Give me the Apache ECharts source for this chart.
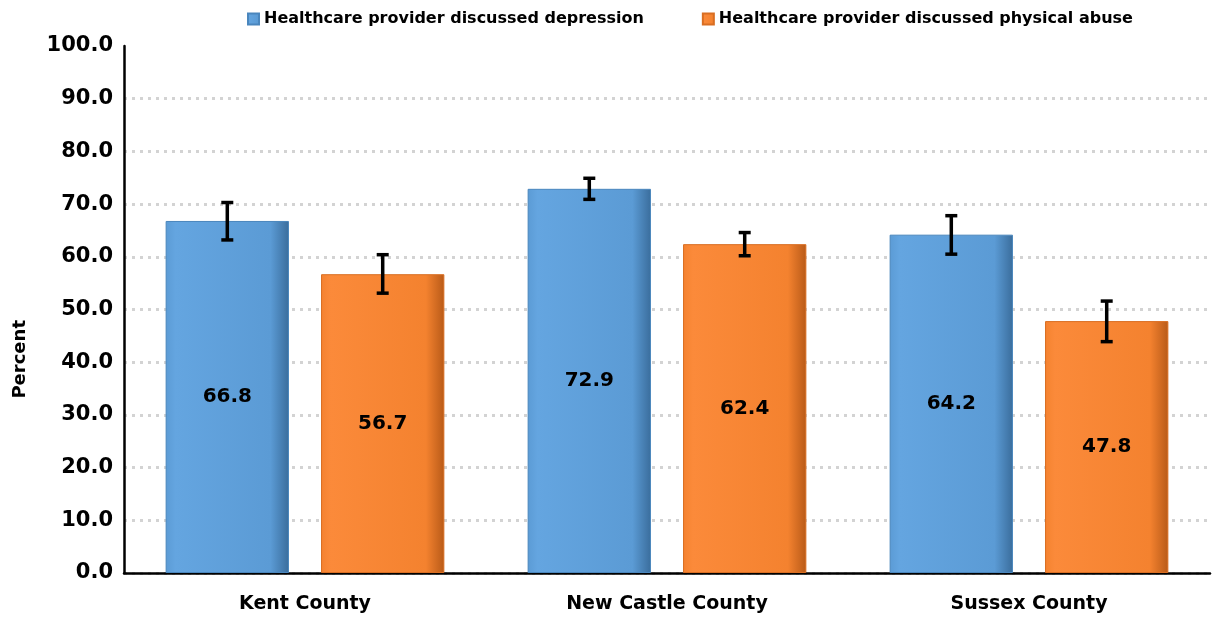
<!DOCTYPE html>
<html><head><meta charset="utf-8">
<script src="https://cdn.jsdelivr.net/npm/echarts@6/dist/echarts.min.js"></script>
<style>html,body{margin:0;padding:0;background:#fff}#c{width:1213px;height:617px}</style>
</head><body><div id="c"></div>
<script>
const categories = ['Kent County', 'New Castle County', 'Sussex County'];
const seriesNames = ['Healthcare provider discussed depression', 'Healthcare provider discussed physical abuse'];
const depression = [66.8, 72.9, 64.2];
const physicalAbuse = [56.7, 62.4, 47.8];
const depressionLow = [63.2, 70.9, 60.5];
const depressionHigh = [70.3, 74.9, 67.8];
const abuseLow = [53.1, 60.2, 43.9];
const abuseHigh = [60.4, 64.6, 51.6];
const yTicks = [0, 10, 20, 30, 40, 50, 60, 70, 80, 90, 100];

const FONT = 'DejaVu Sans';
const chart = echarts.init(document.getElementById('c'));

function grad(light, mid, dark) {
  return new echarts.graphic.LinearGradient(0, 0, 1, 0, [
    {offset: 0, color: mid},
    {offset: 0.08, color: light},
    {offset: 0.85, color: mid},
    {offset: 1, color: dark}
  ]);
}

const BAR_GAP = '26%';
const CAT_GAP = '23%';

function errorSeries(low, high, seriesIndex) {
  return {
    type: 'custom',
    name: 'err' + seriesIndex,
    z: 10,
    silent: true,
    renderItem: function (params, api) {
      const xi = api.value(0);
      const lo = api.coord([xi, api.value(1)]);
      const hi = api.coord([xi, api.value(2)]);
      const size = api.size([1, 0]);
      const catW = size[0];
      const inner = catW * (1 - 0.23);
      const bw = inner / (2 + 0.26);
      const offset = (seriesIndex === 0 ? -1 : 1) * (bw / 2 + bw * 0.26 / 2);
      const x = lo[0] + offset;
      const half = 6;
      const style = {stroke: '#000', lineWidth: 3.5};
      return {
        type: 'group',
        children: [
          {type: 'line', shape: {x1: x, y1: lo[1], x2: x, y2: hi[1]}, style: style},
          {type: 'line', shape: {x1: x - half, y1: lo[1], x2: x + half, y2: lo[1]}, style: style},
          {type: 'line', shape: {x1: x - half, y1: hi[1], x2: x + half, y2: hi[1]}, style: style}
        ]
      };
    },
    encode: {x: 0, y: [1, 2]},
    data: categories.map((c, i) => [i, low[i], high[i]])
  };
}

const labelCfg = {
  show: true, position: 'inside', color: '#000', fontFamily: FONT, fontWeight: 'bold', fontSize: 20,
  formatter: p => p.value.toFixed(1)
};

const gridColors = yTicks.map((v, i) => i === yTicks.length - 1 ? 'rgba(0,0,0,0)' : '#d3d3d3');

chart.setOption({
  animation: false,
  textStyle: {fontFamily: FONT},
  legend: {
    top: 6, left: 242, itemGap: 58, itemWidth: 11, itemHeight: 11, icon: 'rect',
    data: seriesNames,
    textStyle: {fontFamily: FONT, fontWeight: 'bold', fontSize: 16, color: '#000'}
  },
  grid: {left: 124, right: 3, top: 46, bottom: 44, containLabel: false},
  xAxis: {
    type: 'category', data: categories,
    axisLine: {lineStyle: {color: '#000', width: 2.5}},
    axisTick: {show: false},
    axisLabel: {color: '#000', fontFamily: FONT, fontWeight: 'bold', fontSize: 19, margin: 22},
    splitLine: {show: false}
  },
  yAxis: {
    type: 'value', min: 0, max: 100, interval: 10,
    axisLine: {show: true, lineStyle: {color: '#000', width: 2.5}},
    axisTick: {show: false},
    axisLabel: {color: '#000', fontFamily: FONT, fontWeight: 'bold', fontSize: 21, margin: 11,
      formatter: v => yTicks.includes(v) ? v.toFixed(1) : ''},
    splitLine: {show: true, lineStyle: {color: gridColors, width: 3, type: [3, 5]}}
  },
  graphic: [{
    type: 'text', left: 11, top: 320, rotation: Math.PI / 2,
    style: {text: 'Percent', fill: '#000', font: 'bold 18px "DejaVu Sans"'}
  }],
  series: [
    {
      name: seriesNames[0], type: 'bar', data: depression, barGap: BAR_GAP, barCategoryGap: CAT_GAP,
      itemStyle: {color: grad('#64a5e0', '#5b9bd5', '#3a6d9c'), borderColor: '#4a86bd', borderWidth: 1},
      label: labelCfg
    },
    {
      name: seriesNames[1], type: 'bar', data: physicalAbuse, barGap: BAR_GAP, barCategoryGap: CAT_GAP,
      itemStyle: {color: grad('#fb8a3a', '#f4822f', '#b85a18'), borderColor: '#d96e22', borderWidth: 1},
      label: labelCfg
    },
    errorSeries(depressionLow, depressionHigh, 0),
    errorSeries(abuseLow, abuseHigh, 1)
  ]
});
</script></body></html>
